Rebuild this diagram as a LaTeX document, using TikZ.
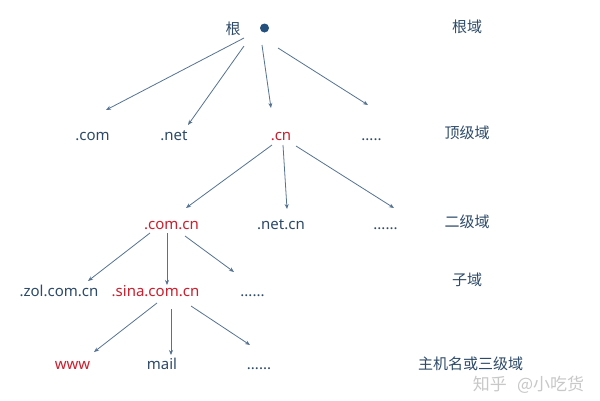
\documentclass[tikz,border=0pt]{standalone}
\usepackage{fontspec}
\setmainfont{Noto Sans}
\newfontfamily\cjk{Noto Sans CJK SC}
\usetikzlibrary{arrows.meta}
\definecolor{txtblue}{RGB}{45,74,104}
\definecolor{txtred}{RGB}{205,30,45}
\definecolor{arrcol}{RGB}{85,115,145}
\definecolor{dotcol}{RGB}{35,80,125}
\definecolor{wmark}{RGB}{200,200,200}
\begin{document}
\begin{tikzpicture}[x=1pt,y=-1pt,
  lbl/.style={inner sep=0pt,anchor=base,text=txtblue,font=\fontsize{15}{18}\selectfont},
  redlbl/.style={lbl,text=txtred},
  zh/.style={inner sep=0pt,anchor=center,text=txtblue,font=\fontsize{15}{18}\selectfont\cjk},
  arr/.style={draw=arrcol,line width=0.8pt,-{Stealth[length=5pt,width=4pt]}}]
\useasboundingbox[fill=white] (0,0) rectangle (600,400);
% root
\node[zh] (gen) at (233,29) {根};
\node[circle,fill=dotcol,inner sep=0pt,minimum size=9pt] (rootdot) at (264.5,28) {};
% top level
\node[lbl] (com) at (92.5,140) {.com};
\node[lbl] (net) at (174,140) {.net};
\node[redlbl] (cn) at (281,140) {.cn};
\node[lbl] (tdots) at (371.5,140) {.....};
% second level
\node[redlbl] (comcn) at (171.5,229) {.com.cn};
\node[lbl] (netcn) at (281,229) {.net.cn};
\node[lbl] (sdots) at (385.5,229) {......};
% sub domains
\node[lbl] (zol) at (59,296) {.zol.com.cn};
\node[redlbl] (sina) at (155.5,296) {.sina.com.cn};
\node[lbl] (subdots) at (252.5,296) {......};
% hosts
\node[redlbl] (www) at (72.5,369) {www};
\node[lbl] (mail) at (162,369) {mail};
\node[lbl] (hdots) at (259,369) {......};
% level labels
\node[zh] (lroot) at (467,26.5) {根域};
\node[zh] (ltop) at (467,133) {顶级域};
\node[zh] (lsec) at (467,222) {二级域};
\node[zh] (lsub) at (467,280) {子域};
\node[zh] (lhost) at (470.5,364) {主机名或三级域};
\node[inner sep=0pt,text=wmark,font=\fontsize{17}{20}\selectfont\cjk] (wm) at (528.5,385) {知乎\hspace{0.6em}@小吃货};
% arrows from root
\draw[arr] ([shift={(-20.5,10)}]rootdot.center) -- ([shift={(13.5,-30)}]com.base);
\draw[arr] ([shift={(-20.5,18)}]rootdot.center) -- ([shift={(14,-15)}]net.base);
\draw[arr] ([shift={(-2.5,17)}]rootdot.center) -- ([shift={(-10,-32)}]cn.base);
\draw[arr] ([shift={(13.5,20)}]rootdot.center) -- ([shift={(-3.5,-35)}]tdots.base);
% arrows from .cn
\draw[arr] ([shift={(-9,5)}]cn.base) -- ([shift={(14.5,-21)}]comcn.base);
\draw[arr] ([shift={(2,5)}]cn.base) -- ([shift={(6,-20)}]netcn.base);
\draw[arr] ([shift={(15,6)}]cn.base) -- ([shift={(8.5,-21)}]sdots.base);
% arrows from .com.cn
\draw[arr] ([shift={(-21.5,4)}]comcn.base) -- ([shift={(29,-15)}]zol.base);
\draw[arr] ([shift={(-4.5,4)}]comcn.base) -- ([shift={(11.5,-11)}]sina.base);
\draw[arr] ([shift={(13.5,7)}]comcn.base) -- ([shift={(-18.5,-24)}]subdots.base);
% arrows from .sina.com.cn
\draw[arr] ([shift={(1.5,7)}]sina.base) -- ([shift={(21.5,-17)}]www.base);
\draw[arr] ([shift={(15.5,13)}]sina.base) -- ([shift={(9,-14)}]mail.base);
\draw[arr] ([shift={(35.5,10)}]sina.base) -- ([shift={(-9,-24)}]hdots.base);
\end{tikzpicture}
\end{document}
